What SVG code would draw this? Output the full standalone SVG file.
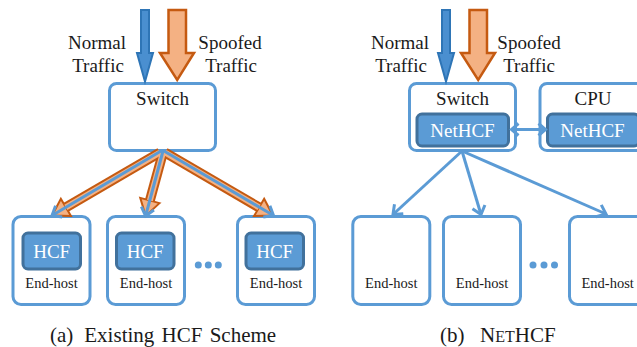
<svg xmlns="http://www.w3.org/2000/svg" width="637" height="347" viewBox="0 0 637 347" font-family="'Liberation Serif', 'DejaVu Serif', serif">
<style>
text{font-family:"Liberation Serif","DejaVu Serif",serif;fill:#1a1a1a;text-anchor:middle}
.lbl{font-size:19px}
.eh{font-size:14.5px}
.wt{font-size:19px;fill:#ffffff}
.cap{font-size:21px;text-anchor:start}
.box{fill:#ffffff;stroke:#5B9BD5;stroke-width:3}
.inner{fill:#5B9BD5;stroke:#41719C;stroke-width:3}
.dot{fill:#5B9BD5}
.os{fill:none;stroke:#C55A11;stroke-width:10}
.oi{fill:none;stroke:#F4B183;stroke-width:6}
.bl{fill:none;stroke:#5B9BD5;stroke-width:3}
</style>
<defs>
<marker id="ohead" markerUnits="userSpaceOnUse" orient="auto" refX="0" refY="0" overflow="visible">
<path d="M0,-10 L16,0 L0,10 Z" fill="#F4B183" stroke="#C55A11" stroke-width="2"/>
</marker>
<marker id="chev" markerUnits="userSpaceOnUse" orient="auto" refX="0" refY="0" overflow="visible">
<path d="M-8,-6.5 L0,0 L-8,6.5" fill="none" stroke="#5B9BD5" stroke-width="3"/>
</marker>
<marker id="chev2" markerUnits="userSpaceOnUse" orient="auto-start-reverse" refX="0" refY="0" overflow="visible">
<path d="M-7,-6 L0,0 L-7,6" fill="none" stroke="#5B9BD5" stroke-width="3"/>
</marker>
</defs>

<g id="labels-a">
<text class="lbl" x="97" y="49">Normal</text>
<text class="lbl" x="98" y="72">Traffic</text>
<text class="lbl" x="230" y="49">Spoofed</text>
<text class="lbl" x="231" y="72">Traffic</text>
</g>
<g id="labels-b">
<text class="lbl" x="400" y="49">Normal</text>
<text class="lbl" x="401" y="72">Traffic</text>
<text class="lbl" x="529" y="49">Spoofed</text>
<text class="lbl" x="529" y="72">Traffic</text>
</g>

<g id="switch-a">
<rect class="box" x="109.5" y="83.5" width="106" height="67" rx="7"/>
<text class="lbl" x="162.5" y="105">Switch</text>
</g>

<g id="host-a1">
<rect class="box" x="13" y="216.5" width="77" height="88" rx="8"/>
<rect class="inner" x="23" y="233" width="57.5" height="36" rx="5"/>
<text class="wt" x="51.7" y="258">HCF</text>
<text class="eh" x="51.5" y="288">End-host</text>
</g>
<g id="host-a2">
<rect class="box" x="107.5" y="216.5" width="77" height="88" rx="8"/>
<rect class="inner" x="116.5" y="233" width="57.5" height="36" rx="5"/>
<text class="wt" x="145.2" y="258">HCF</text>
<text class="eh" x="146" y="288">End-host</text>
</g>
<g id="host-a3">
<rect class="box" x="237.5" y="216.5" width="77" height="88" rx="8"/>
<rect class="inner" x="246" y="233" width="57.5" height="36" rx="5"/>
<text class="wt" x="274.7" y="258">HCF</text>
<text class="eh" x="276" y="288">End-host</text>
</g>
<g id="dots-a">
<circle class="dot" cx="198.3" cy="265" r="3.5"/>
<circle class="dot" cx="208.3" cy="265" r="3.5"/>
<circle class="dot" cx="218.3" cy="265" r="3.5"/>
</g>

<g id="switch-b">
<rect class="box" x="409.5" y="83.5" width="106" height="67" rx="7"/>
<text class="lbl" x="462.5" y="105">Switch</text>
<rect class="inner" x="417" y="114" width="91.5" height="32" rx="5"/>
<text class="wt" x="462.5" y="136.5">NetHCF</text>
</g>
<g id="cpu-b">
<rect class="box" x="540" y="83.5" width="106" height="67" rx="7"/>
<text class="lbl" x="593" y="105">CPU</text>
<rect class="inner" x="547.5" y="114" width="91.5" height="32" rx="5"/>
<text class="wt" x="592.5" y="136.5">NetHCF</text>
</g>

<g id="host-b1">
<rect class="box" x="352.8" y="216.5" width="77" height="88" rx="8"/>
<text class="eh" x="391.3" y="288">End-host</text>
</g>
<g id="host-b2">
<rect class="box" x="443.5" y="216.5" width="77" height="88" rx="8"/>
<text class="eh" x="482" y="288">End-host</text>
</g>
<g id="host-b3">
<rect class="box" x="569.5" y="216.5" width="77" height="88" rx="8"/>
<text class="eh" x="607.7" y="288">End-host</text>
</g>
<g id="dots-b">
<circle class="dot" cx="533" cy="265" r="3.5"/>
<circle class="dot" cx="544" cy="265" r="3.5"/>
<circle class="dot" cx="554.5" cy="265" r="3.5"/>
</g>

<g id="connectors">
<!-- (a) double arrows -->
<path class="os" d="M160,152.5 L65.9,207.4" marker-end="url(#ohead)"/>
<path class="os" d="M163,152.5 L149.9,200.5" marker-end="url(#ohead)"/>
<path class="os" d="M165,152.5 L259.1,207.4" marker-end="url(#ohead)"/>
<path class="oi" d="M160,152.5 L65.9,207.4"/>
<path class="oi" d="M163,152.5 L149.9,200.5"/>
<path class="oi" d="M165,152.5 L259.1,207.4"/>
<path class="bl" d="M161,151 L52,215.5" marker-end="url(#chev)"/>
<path class="bl" d="M163,151 L145.6,216" marker-end="url(#chev)"/>
<path class="bl" d="M164,151 L273.5,215.5" marker-end="url(#chev)"/>
<!-- (b) arrows -->
<path class="bl" d="M462,151 L393,214.5" marker-end="url(#chev)"/>
<path class="bl" d="M462,151 L481,214.5" marker-end="url(#chev)"/>
<path class="bl" d="M462,151 L606,214" marker-end="url(#chev)"/>
<path class="bl" d="M511.5,129.5 L545.5,129.5" marker-start="url(#chev2)" marker-end="url(#chev2)"/>
<!-- traffic arrows -->
<path d="M141,10 L149,10 L149,53 L153,53 L145,81.5 L137,53 L141,53 Z" fill="#4A8FD0" stroke="#2E75B6" stroke-width="2"/>
<path d="M168.5,10 L186,10 L186,53 L194,53 L177.2,80 L160,53 L168.5,53 Z" fill="#F4B183" stroke="#C55A11" stroke-width="2.5"/>
<path d="M442,10 L450,10 L450,53 L454,53 L446,81.5 L438,53 L442,53 Z" fill="#4A8FD0" stroke="#2E75B6" stroke-width="2"/>
<path d="M469.5,10 L487,10 L487,53 L495,53 L478.2,80 L461,53 L469.5,53 Z" fill="#F4B183" stroke="#C55A11" stroke-width="2.5"/>
</g>

<g id="captions">
<text class="cap" x="50" y="342">(a)</text>
<text class="cap" x="84.3" y="342" word-spacing="2">Existing HCF Scheme</text>
<text class="cap" x="440" y="342">(b)</text>
<text class="cap" x="480" y="342">N<tspan font-size="16">ET</tspan>HCF</text>
</g>
</svg>
